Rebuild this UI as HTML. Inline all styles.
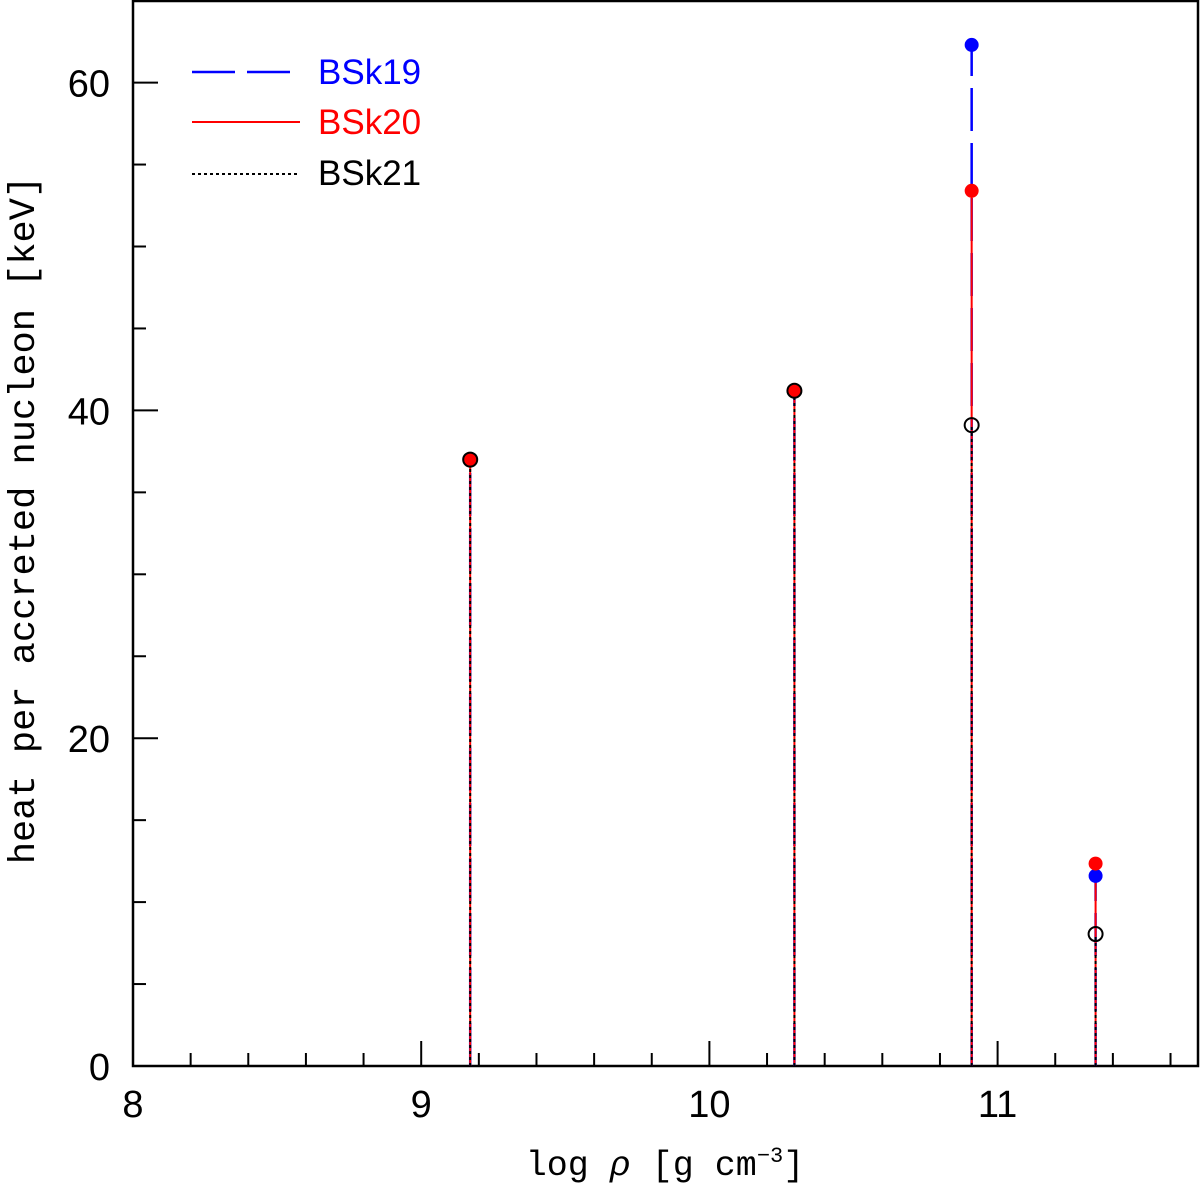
<!DOCTYPE html>
<html><head><meta charset="utf-8"><style>
body{margin:0;background:#fff}
svg text{font-family:"Liberation Sans",sans-serif;}
</style></head><body>
<svg id="chart" width="1200" height="1185" xmlns="http://www.w3.org/2000/svg">
<rect x="133" y="1" width="1065" height="1065" fill="none" stroke="#000" stroke-width="2.5"/>
<g id="axes"></g>
<g id="marks"></g>
<g>
<line x1="192" y1="72" x2="300" y2="72" stroke="#00f" stroke-width="2.5" stroke-dasharray="43 12"/>
<text x="318" y="84" font-size="35" fill="#00f">BSk19</text>
<line x1="192" y1="122" x2="300" y2="122" stroke="#f00" stroke-width="2"/>
<text x="318" y="134" font-size="35" fill="#f00">BSk20</text>
<line x1="192" y1="174" x2="300" y2="174" stroke="#000" stroke-width="2" stroke-dasharray="3 3"/>
<text x="318" y="185" font-size="35" fill="#000">BSk21</text>
</g>
<text x="665" y="1175" font-size="35" text-anchor="middle" style="font-family:'Liberation Mono',monospace">log <tspan font-style="italic">ρ</tspan> [g cm<tspan font-size="22" dy="-13">−3</tspan><tspan dy="13">]</tspan></text>
<text transform="translate(34,520) rotate(-90)" font-size="37" text-anchor="middle" style="font-family:'Liberation Mono',monospace">heat per accreted nucleon [keV]</text>
</svg>
<script>
const xPos=[9.17,10.295,10.91,11.34];
const bsk19=[37.0,41.2,62.3,11.6];
const bsk20=[37.0,41.2,53.4,12.35];
const bsk21=[37.0,41.2,39.1,8.05];
const xTicks=[8,9,10,11];
const yTicks=[0,20,40,60];
const NS="http://www.w3.org/2000/svg";
const X=v=>133+(v-8)*288.2;
const Y=v=>1066-v*16.39;
function mk(tag,attrs,parent){const e=document.createElementNS(NS,tag);for(const k in attrs)e.setAttribute(k,attrs[k]);parent.appendChild(e);return e;}
const axes=document.getElementById('axes'),marks=document.getElementById('marks');
for(let i=0;i<=18;i++){const v=8+i*0.2;const maj=i%5==0;const x=X(v);const L=maj?25:13;
 let t=mk('line',{x1:x,x2:x,y1:1066,y2:1066-L,stroke:'#000','stroke-width':2},axes);
 }
xTicks.forEach(v=>{const t=mk('text',{x:X(v),y:1117,'font-size':38,'text-anchor':'middle'},axes);t.textContent=v;
 });
for(let v=0;v<=65;v+=5){const maj=v%20==0;const y=Y(v);const L=maj?25:13;
 let t=mk('line',{x1:133,x2:133+L,y1:y,y2:y,stroke:'#000','stroke-width':2},axes);
 }
yTicks.forEach(v=>{const t=mk('text',{x:110,y:Y(v)+14,'font-size':38,'text-anchor':'end'},axes);t.textContent=v;
 });
xPos.forEach((xv,i)=>{const x=X(xv);
 let a=mk('line',{x1:x,x2:x,y1:Y(0),y2:Y(bsk19[i]),stroke:'#00f','stroke-width':2.5,'stroke-dasharray':'43 12'},marks);
 
 let b=mk('line',{x1:x,x2:x,y1:Y(0),y2:Y(bsk20[i]),stroke:'#f00','stroke-width':2},marks);
 
 let c=mk('line',{x1:x,x2:x,y1:Y(0),y2:Y(bsk21[i]),stroke:'#000','stroke-width':2,'stroke-dasharray':'3 3'},marks);
 
});
xPos.forEach((xv,i)=>{const x=X(xv);
 let a=mk('circle',{cx:x,cy:Y(bsk19[i]),r:7,fill:'#00f'},marks);
 
 let b=mk('circle',{cx:x,cy:Y(bsk20[i]),r:7,fill:'#f00'},marks);
 
 let c=mk('circle',{cx:x,cy:Y(bsk21[i]),r:7,fill:'none',stroke:'#000','stroke-width':2},marks);
 
});
</script>
</body></html>
